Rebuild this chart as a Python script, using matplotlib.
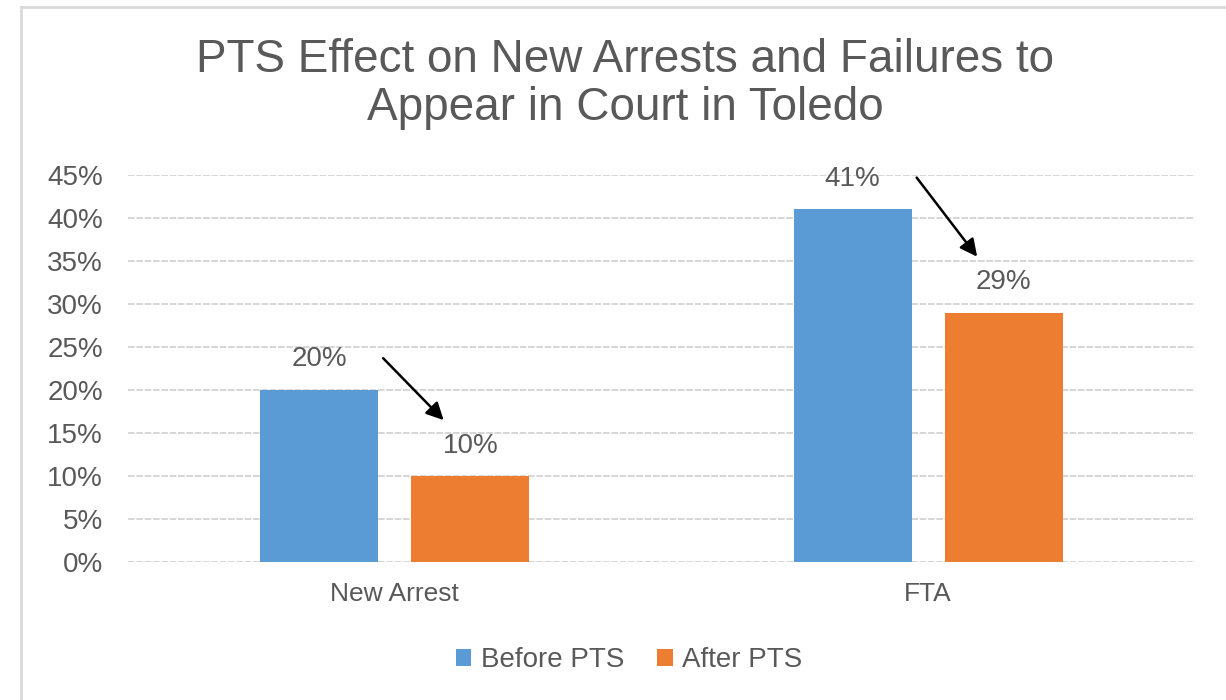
import matplotlib
matplotlib.use("Agg")
import matplotlib.pyplot as plt
from matplotlib.lines import Line2D
import numpy as np

plt.rcParams['font.family'] = ['Liberation Sans', 'DejaVu Sans']

# data
categories = ["New Arrest", "FTA"]
before_pts = [20, 41]
after_pts = [10, 29]
series_names = ["Before PTS", "After PTS"]
yticks = [0, 5, 10, 15, 20, 25, 30, 35, 40, 45]

blue = "#5B9BD5"
orange = "#ED7D31"
txt = "#595959"
grid_col = "#d0d0d0"

bar_w = 0.221
off = 0.1417

fig = plt.figure(figsize=(12.26, 7), dpi=100)
ax = fig.add_axes([0.1044, 0.197, 0.8703, 0.553])

x = np.arange(len(categories))
b1 = ax.bar(x - off, before_pts, bar_w, color=blue, zorder=3, label=series_names[0])
b2 = ax.bar(x + off, after_pts, bar_w, color=orange, zorder=3, label=series_names[1])

ax.set_xlim(-0.5, 1.5)
ax.set_ylim(0, 45)
ax.set_yticks(yticks)
ax.set_yticklabels([f"{t}%" for t in yticks])
ax.set_xticks(x)
ax.set_xticklabels(categories)
ax.tick_params(axis='y', length=0, pad=18, labelsize=20, labelcolor=txt)
ax.tick_params(axis='x', length=0, pad=14, labelsize=19, labelcolor=txt)
for s in ax.spines.values():
    s.set_visible(False)
ax.yaxis.grid(True, color=grid_col, lw=1.2, linestyle=(0, (4, 1)), zorder=0)
ax.set_axisbelow(True)

# data labels
for bars, vals in [(b1, before_pts), (b2, after_pts)]:
    for r, v in zip(bars, vals):
        ax.annotate(f"{v}%", (r.get_x() + r.get_width() / 2, v),
                    xytext=(0, 22), textcoords="offset points",
                    ha="center", va="center", fontsize=20, color=txt)

# arrows from before to after
tail_dx, tail_dy = 0.12, 3.7
head_dx, head_dy = -0.05, 6.5
for i in range(len(categories)):
    ax.annotate("", xy=(x[i] + off + head_dx, after_pts[i] + head_dy),
                xytext=(x[i] - off + tail_dx, before_pts[i] + tail_dy),
                arrowprops=dict(arrowstyle='-|>', color='black', lw=1.8,
                                mutation_scale=26, shrinkA=0, shrinkB=0),
                annotation_clip=False, zorder=5)

fig.text(0.51, 1 - 84 / 700, "PTS Effect on New Arrests and Failures to\nAppear in Court in Toledo",
         ha="center", va="center", fontsize=33, color=txt, linespacing=1.13)

leg = fig.legend(handles=[b1, b2], loc="center", bbox_to_anchor=(629 / 1226, 1 - 660 / 700),
                 ncol=2, frameon=False, fontsize=20, handlelength=0.55, handleheight=0.55,
                 handletextpad=0.35, columnspacing=1.2)
for t in leg.get_texts():
    t.set_color(txt)

# chart border
fig.add_artist(Line2D([21 / 1226, 1], [1 - 7 / 700, 1 - 7 / 700], transform=fig.transFigure,
                      color="#d9d9d9", lw=2))
fig.add_artist(Line2D([21 / 1226, 21 / 1226], [0, 1 - 7 / 700], transform=fig.transFigure,
                      color="#d9d9d9", lw=2))

fig.savefig("out.png", dpi=100)
